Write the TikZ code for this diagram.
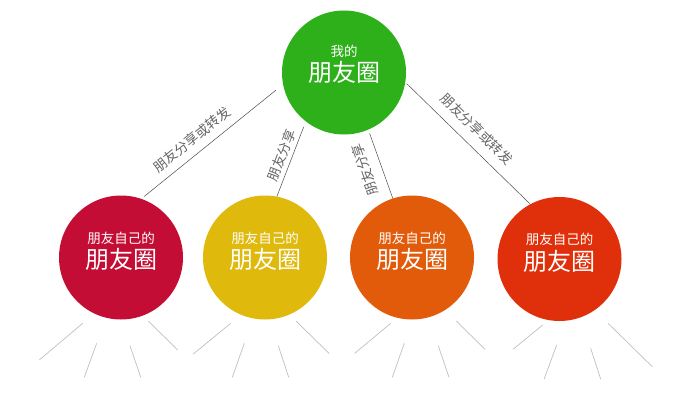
\documentclass[tikz,border=0pt]{standalone}
\usepackage{fontspec}
\setmainfont{Noto Sans CJK SC}
\definecolor{quangreen}{HTML}{2DB01A}
\definecolor{quancrimson}{HTML}{C30D35}
\definecolor{quanyellow}{HTML}{DFB90B}
\definecolor{quanorange}{HTML}{E15B0B}
\definecolor{quanred}{HTML}{E0300B}
% two lines of text in a circle, lowered by #1
\newcommand\bubbletext[3][-11pt]{\raisebox{#1}[0pt][0pt]{\shortstack{{\fontsize{13.5}{14}\selectfont #2}\\[1pt]{\fontsize{24}{26}\selectfont #3}}}}

\begin{document}
\begin{tikzpicture}[x=1pt,y=1pt,
  bubble/.style={circle,inner sep=0pt,outer sep=0pt,minimum size=124pt,text=white},
  link/.style={draw=black!70,line width=0.5pt},
  share/.style={sloped,font=\fontsize{13.5}{14}\selectfont,text=black!60,inner sep=1pt},
  ray/.style={draw=black!25,line width=0.7pt}]
\useasboundingbox (0,0) rectangle (684,408);
\node[bubble,fill=quangreen] (mine) at (344,335.5) {\bubbletext[-9pt]{我的}{朋友圈}};
\foreach \n/\x/\y/\c in {f1/121/150.5/quancrimson, f2/265/150.5/quanyellow,
  f3/412/150.5/quanorange, f4/559.5/149/quanred}
  \node[bubble,fill=\c] (\n) at (\x,\y) {\bubbletext{朋友自己的}{朋友圈}};
\draw[link,shorten <=4pt,shorten >=9pt] (f1.71) -- node[share,pos=0.42,above=7pt] {朋友分享或转发} (mine.191);
\draw[link,shorten >=6pt] (f2.79) -- node[share,above=3pt] {朋友分享} (mine.232);
\draw[link,shorten >=4pt] (f3.108) -- node[share,allow upside down,above=9pt] {朋友分享} (mine.293);
\draw[link,shorten <=2pt] (mine.351) -- node[share,pos=0.48,above=9pt] {朋友分享或转发} (f4.118);
% rays under each circle
\foreach \xa/\ya/\xb/\yb in {
  82.7/84.7/39.3/48, 96.7/64.7/84.3/30.7, 130/62.3/140.7/30.7, 148.3/87/177.7/58,
  230.7/84.7/193.3/54, 244.3/64.7/232.3/30.7, 278.3/62.3/288.7/30.7, 296/87/329/54.7,
  390.7/84.7/354.7/54.7, 404.3/64.7/392.3/30.7, 438.3/62.3/449/30.7, 456.3/87/485/58.7,
  542.7/83/513/58.7, 556.7/63/544/28.7, 590.7/59.7/600.7/28.7, 608/84.7/652.3/41.3}
  \draw[ray] (\xa,\ya) -- (\xb,\yb);
\end{tikzpicture}
\end{document}
